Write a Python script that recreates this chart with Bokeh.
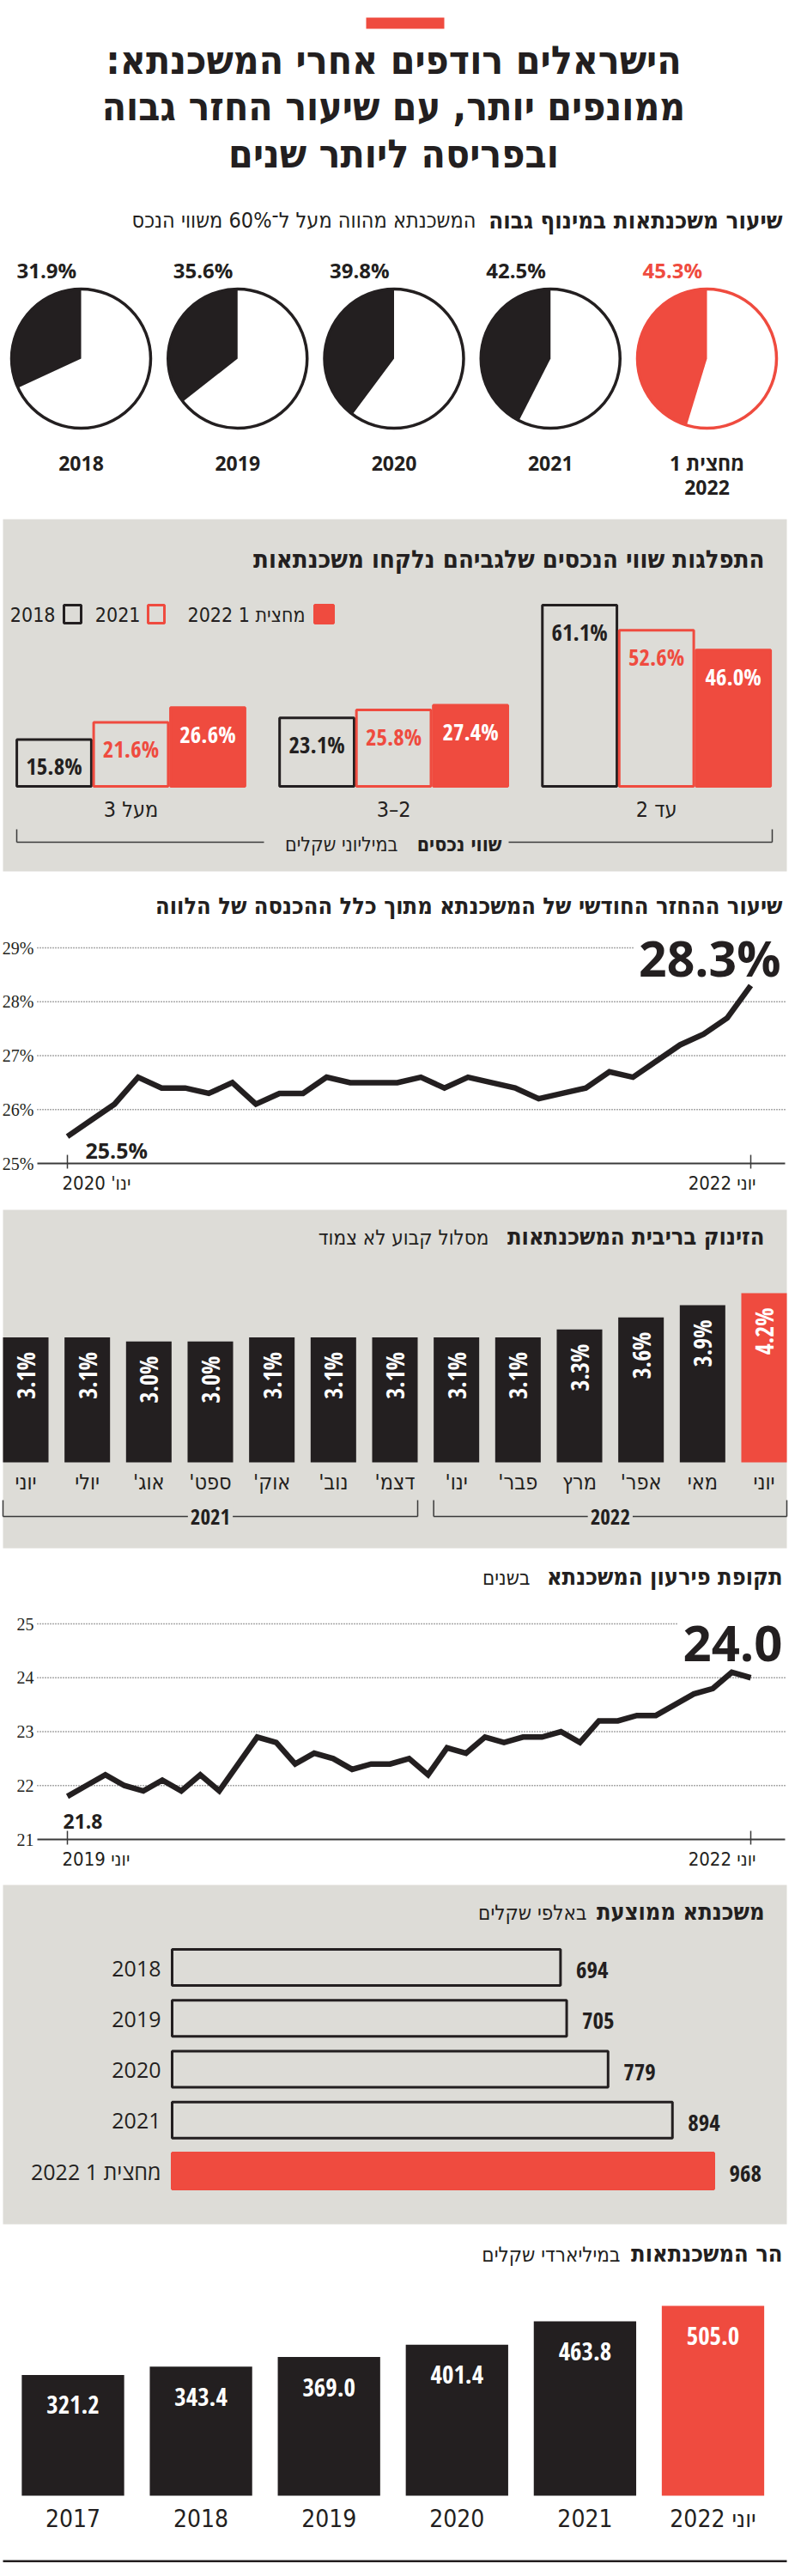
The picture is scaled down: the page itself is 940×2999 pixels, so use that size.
from math import pi
from bokeh.plotting import figure
from bokeh.models import Range1d, Label
from bokeh.core.properties import value
from bokeh.embed import file_html
from bokeh.resources import INLINE

# ---------------- data ----------------
title_lines = ["הישראלים רודפים אחרי המשכנתא:", "ממונפים יותר, עם שיעור החזר גבוה", "ובפריסה ליותר שנים"]

pie_title_bold = "שיעור משכנתאות במינוף גבוה"
pie_title_reg = "המשכנתא מהווה מעל ל־60% משווי הנכס"
pie_year_line1 = ["2018", "2019", "2020", "2021", "מחצית 1"]
pie_year_line2 = ["", "", "", "", "2022"]
pie_values = [31.9, 35.6, 39.8, 42.5, 45.3]

dist_title = "התפלגות שווי הנכסים שלגביהם נלקחו משכנתאות"
dist_groups = ["מעל 3", "2–3", "עד 2"]
dist_series = ["2018", "2021", "מחצית 1 2022"]
dist_2018 = [15.8, 23.1, 61.1]
dist_2021 = [21.6, 25.8, 52.6]
dist_2022h1 = [26.6, 27.4, 46.0]
dist_axis_bold = "שווי נכסים"
dist_axis_reg = "במיליוני שקלים"

pti_title = "שיעור ההחזר החודשי של המשכנתא מתוך כלל ההכנסה של הלווה"
pti_values = [25.5, 25.8, 26.1, 26.6, 26.4, 26.4, 26.3, 26.5, 26.1, 26.3,
              26.3, 26.6, 26.5, 26.5, 26.5, 26.6, 26.4, 26.6, 26.5, 26.4,
              26.2, 26.3, 26.4, 26.7, 26.6, 26.9, 27.2, 27.4, 27.7, 28.3]
pti_ticks = [25, 26, 27, 28, 29]
pti_tick_labels = ["25%", "26%", "27%", "28%", "29%"]
pti_end_labels = ["ינו' 2020", "יוני 2022"]

rate_title_bold = "הזינוק בריבית המשכנתאות"
rate_title_reg = "מסלול קבוע לא צמוד"
rate_months = ["יוני", "יולי", "אוג'", "ספט'", "אוק'", "נוב'", "דצמ'", "ינו'", "פבר'", "מרץ", "אפר'", "מאי", "יוני"]
rate_years = ["2021"] * 7 + ["2022"] * 6
rate_values = [3.1, 3.1, 3.0, 3.0, 3.1, 3.1, 3.1, 3.1, 3.1, 3.3, 3.6, 3.9, 4.2]

term_title_bold = "תקופת פירעון המשכנתא"
term_title_reg = "בשנים"
term_values = [21.8, 22.0, 22.2, 22.0, 21.9, 22.1, 21.9, 22.2, 21.9, 22.4,
               22.9, 22.8, 22.4, 22.6, 22.5, 22.3, 22.4, 22.4, 22.5, 22.2,
               22.7, 22.6, 22.9, 22.8, 22.9, 22.9, 23.0, 22.8, 23.2, 23.2,
               23.3, 23.3, 23.5, 23.7, 23.8, 24.1, 24.0]
term_ticks = [21, 22, 23, 24, 25]
term_tick_labels = ["21", "22", "23", "24", "25"]
term_end_labels = ["יוני 2019", "יוני 2022"]

avg_title_bold = "משכנתא ממוצעת"
avg_title_reg = "באלפי שקלים"
avg_labels = ["2018", "2019", "2020", "2021", "מחצית 1 2022"]
avg_values = [694, 705, 779, 894, 968]

debt_title_bold = "הר המשכנתאות"
debt_title_reg = "במיליארדי שקלים"
debt_labels = ["2017", "2018", "2019", "2020", "2021", "יוני 2022"]
debt_values = [321.2, 343.4, 369.0, 401.4, 463.8, 505.0]

# ---------------- style ----------------
RED = "#ef4b3f"
BLACK = "#231f20"
GRAY = "#dddcd7"
LINE = "#3a3a3a"
FT = "DejaVu Sans Condensed"
FB = "Open Sans Condensed, DejaVu Sans Condensed"
FO = "Open Sans"
FR = "Liberation Sans Narrow, DejaVu Sans Condensed"
FN = "Liberation Sans Narrow"


def rtl(s):
    return "\u202b" + s + "\u202c"


W, H = 924, 2983
X0, Y0 = 8, 8


def rng(v0, p0, v1, p1, lo, hi):
    s = (p1 - p0) / (v1 - v0)
    return Range1d(start=v0 + (lo - p0) / s, end=v0 + (hi - p0) / s)


def xr(v0, p0, v1, p1):
    return rng(v0, p0, v1, p1, X0, X0 + W)


def yr(v0, p0, v1, p1):
    return rng(v0, p0, v1, p1, Y0 + H, Y0)


p = figure(width=W, height=H, x_range=Range1d(X0, X0 + W), y_range=Range1d(Y0 + H, Y0),
           output_backend="svg", toolbar_location=None, min_border=0,
           x_axis_type=None, y_axis_type=None, outline_line_color=None,
           background_fill_color="white", border_fill_color="white")

n_pie = len(pie_values)
n_rate = len(rate_values)
n_pti = len(pti_values)
n_term = len(term_values)
n_avg = len(avg_values)
n_debt = len(debt_values)
GP = 3.42  # group pitch in bar units

p.extra_x_ranges = {
    "piex": xr(0, 102, n_pie - 1, 831),
    "dx": xr(0, 70.5, 1, 160),
    "l1x": xr(0, 86, n_pti - 1, 882),
    "rx": xr(0, 37.5, n_rate - 1, 897.5),
    "l2x": xr(0, 86, n_term - 1, 882),
    "hx": xr(0, 208, 968, 839),
    "bx": xr(0, 92.5, n_debt - 1, 838),
}
p.extra_y_ranges = {
    "piey": yr(0, 425, 1, 424),
    "dy": yr(0, 923, 61.1, 712),
    "l1y": yr(25, 1362, 29, 1111),
    "ry": yr(0, 1710, 4.2, 1513),
    "l2y": yr(21, 2149, 25, 1898),
    "hy": yr(0, 2298, n_avg - 1, 2535),
    "by": yr(0, 2913, 505, 2692),
}


def txt(x, y, s, size, font=FR, bold=False, color=BLACK, align="left", baseline="middle", **kw):
    if isinstance(s, str):
        x, y, s = [x], [y], [s]
    p.text(x=x, y=y, text=s, text_font=value(font), text_font_size=f"{size}px",
           text_font_style="bold" if bold else "normal", text_color=color,
           text_align=align, text_baseline=baseline, **kw)


# ---------------- headline ----------------
p.quad(left=[434], right=[525], top=[28], bottom=[41], fill_color=RED, line_color=None)
for i, line in enumerate(title_lines):
    txt(466, 77 + i * 54.5, rtl(line), 46, font=FT, bold=True, align="center")

# ---------------- pies ----------------
txt(919, 263, rtl(pie_title_bold), 27.5, font=FT, bold=True, align="right")
txt(562, 264, rtl(pie_title_reg), 25, font=FR, align="right")
pie_idx = list(range(n_pie))
pie_col = [BLACK] * (n_pie - 1) + [RED]
pie_end = [pi / 2 + 2 * pi * v / 100 for v in pie_values]
p.circle(x=pie_idx, y=0, radius=81, radius_units="screen", fill_color="white", line_color=None,
         x_range_name="piex", y_range_name="piey")
p.wedge(x=pie_idx, y=0, radius=81, radius_units="screen", start_angle=pi / 2, end_angle=pie_end,
        direction="anticlock", fill_color=pie_col, line_color=None, x_range_name="piex", y_range_name="piey")
p.circle(x=pie_idx, y=0, radius=81, radius_units="screen", fill_color=None, line_color=pie_col,
         line_width=3.5, x_range_name="piex", y_range_name="piey")
p.text(x=pie_idx, y=322, text=[f"{v:.1f}%" for v in pie_values], x_offset=-75,
       text_font=value(FO), text_font_style="bold", text_font_size="24px", text_color=pie_col,
       text_align="left", text_baseline="middle", x_range_name="piex")
p.text(x=pie_idx, y=546, text=[rtl(s) for s in pie_year_line1], text_font=value(FO), text_font_style="bold",
       text_font_size="23px", text_color=BLACK, text_align="center", text_baseline="middle",
       x_range_name="piex")
p.text(x=pie_idx, y=575, text=pie_year_line2, text_font=value(FO), text_font_style="bold",
       text_font_size="23px", text_color=BLACK, text_align="center", text_baseline="middle",
       x_range_name="piex")

# ---------------- distribution ----------------
p.quad(left=[11], right=[924], top=[612], bottom=[1022], fill_color=GRAY, line_color=None)
txt(898, 658, rtl(dist_title), 29, font=FT, bold=True, align="right")
leg_fill = [GRAY, GRAY, RED]
leg_line = [BLACK, RED, RED]
p.quad(left=[82, 180, 374], right=[102, 199, 396], top=712, bottom=733,
       fill_color=leg_fill, line_color=leg_line, line_width=3)
txt([72, 171, 363], 723, [rtl(s) for s in dist_series], 23, font=FR, align="right")

series = [dist_2018, dist_2021, dist_2022h1]
bx, bv, bfill, bline, btxt = [], [], [], [], []
lab_col = [BLACK, RED, "white"]
for s, vals in enumerate(series):
    for g, v in enumerate(vals):
        bx.append(g * GP + s)
        bv.append(v)
        bfill.append(leg_fill[s])
        bline.append(leg_line[s])
        btxt.append(lab_col[s])
p.vbar(x=bx, top=bv, bottom=0, width=0.97, fill_color=bfill, line_color=bline, line_width=3,
       x_range_name="dx", y_range_name="dy")
p.text(x=bx, y=bv, text=[f"{v:.1f}%" for v in bv], y_offset=31, text_font=value(FB),
       text_font_style="bold", text_font_size="27px", text_color=btxt, text_align="center",
       text_baseline="middle", x_range_name="dx", y_range_name="dy")
p.text(x=[g * GP + 1 for g in range(len(dist_groups))], y=950, text=[rtl(g) for g in dist_groups],
       text_font=value(FR), text_font_size="25px", text_color=BLACK, text_align="center",
       text_baseline="middle", x_range_name="dx")
p.segment(x0=[27, 600, 27, 907], x1=[315, 907, 27, 907], y0=[988, 988, 973, 973], y1=[988, 988, 988, 988],
          line_color=LINE, line_width=1.5)
txt(592, 990, rtl(dist_axis_bold), 23, font=FT, bold=True, align="right")
txt(471, 990, rtl(dist_axis_reg), 23, font=FR, align="right")


# ---------------- line charts ----------------
def line_chart(title_b, title_r, title_y, title_r_right, values, ticks, tick_labels, fmt,
               end_labels, xrn, yrn, base_y, top_grid_end, first_off, last_off, last_size, first_size):
    txt(919, title_y, rtl(title_b), 27, font=FT, bold=True, align="right")
    if title_r:
        txt(title_r_right, title_y + 1, rtl(title_r), 24, font=FR, align="right")
    n = len(values)
    p.segment(x0=51, x1=[922] * (len(ticks) - 2) + [top_grid_end], y0=ticks[1:], y1=ticks[1:],
              line_color="#555555", line_width=1.5, line_dash="1 2", y_range_name=yrn)
    p.segment(x0=51, x1=922, y0=ticks[0], y1=ticks[0], line_color=LINE, line_width=2, y_range_name=yrn)
    txt(47, ticks, tick_labels, 20, font=FN, align="right", y_range_name=yrn)
    p.segment(x0=[0, n - 1], x1=[0, n - 1], y0=base_y - 10, y1=base_y + 6, line_color=LINE, line_width=1.5,
              x_range_name=xrn)
    p.line(x=list(range(n)), y=values, line_width=6.5, line_color=BLACK, line_join="miter",
           x_range_name=xrn, y_range_name=yrn)
    txt(0, values[0], fmt.format(values[0]), first_size, font=FO, bold=True, baseline="alphabetic",
        x_offset=first_off[0], y_offset=first_off[1], x_range_name=xrn, y_range_name=yrn)
    txt(n - 1, values[-1], fmt.format(values[-1]), last_size, font=FO, bold=True, align="right",
        baseline="alphabetic", x_offset=last_off[0], y_offset=last_off[1], x_range_name=xrn, y_range_name=yrn)
    txt(0, base_y + 23, rtl(end_labels[0]), 22, font=FR, align="left", x_offset=-6, x_range_name=xrn)
    txt(n - 1, base_y + 23, rtl(end_labels[1]), 22, font=FR, align="right", x_offset=6, x_range_name=xrn)


line_chart(pti_title, None, 1062, 0, pti_values, pti_ticks, pti_tick_labels, "{:.1f}%", pti_end_labels,
           "l1x", "l1y", 1362, 745, (21, 16), (35, -32), 57, 25)

# ---------------- rate bars ----------------
p.quad(left=[11], right=[924], top=[1416], bottom=[1810], fill_color=GRAY, line_color=None)
txt(898, 1447, rtl(rate_title_bold), 27, font=FT, bold=True, align="right")
txt(577, 1448, rtl(rate_title_reg), 24, font=FR, align="right")
r_idx = list(range(n_rate))
r_col = [BLACK] * (n_rate - 1) + [RED]
p.vbar(x=r_idx, top=rate_values, bottom=0, width=0.74, fill_color=r_col, line_color=None,
       x_range_name="rx", y_range_name="ry")
p.text(x=r_idx, y=rate_values, text=[f"{v:.1f}%" for v in rate_values], angle=pi / 2, y_offset=17,
       text_font=value(FB), text_font_style="bold", text_font_size="28px", text_color="white",
       text_align="right", text_baseline="middle", x_range_name="rx", y_range_name="ry")
p.text(x=r_idx, y=1733, text=[rtl(m) for m in rate_months], text_font=value(FR), text_font_size="25px",
       text_color=BLACK, text_align="center", text_baseline="middle", x_range_name="rx")
for yv in sorted(set(rate_years)):
    ids = [i for i, y_ in enumerate(rate_years) if y_ == yv]
    a, b = ids[0] - 0.37, ids[-1] + 0.37
    p.segment(x0=[a, a, b], x1=[b, a, b], y0=[1773, 1754, 1754], y1=[1773, 1773, 1773],
              line_color=LINE, line_width=1.5, x_range_name="rx")
    p.add_layout(Label(x=(a + b) / 2, y=1773, text=yv, x_range_name="rx", text_align="center",
                       text_baseline="middle", text_font=FB, text_font_style="bold",
                       text_font_size="25px", text_color=BLACK, background_fill_color=GRAY, padding=3))

# ---------------- term line ----------------
line_chart(term_title_bold, term_title_reg, 1843, 625, term_values, term_ticks, term_tick_labels, "{:.1f}",
           term_end_labels, "l2x", "l2y", 2149, 798, (-5, 29), (37, -40), 58, 23)

# ---------------- average mortgage ----------------
p.quad(left=[11], right=[924], top=[2202], bottom=[2597], fill_color=GRAY, line_color=None)
txt(898, 2233, rtl(avg_title_bold), 27, font=FT, bold=True, align="right")
txt(691, 2234, rtl(avg_title_reg), 24, font=FR, align="right")
a_idx = list(range(n_avg))
a_fill = [GRAY] * (n_avg - 1) + [RED]
a_line = [BLACK] * (n_avg - 1) + [RED]
p.hbar(y=a_idx, left=0, right=avg_values, height=0.709, fill_color=a_fill, line_color=a_line,
       line_width=3, x_range_name="hx", y_range_name="hy")
p.text(x=avg_values, y=a_idx, text=[str(v) for v in avg_values], x_offset=18, y_offset=3,
       text_font=value(FB), text_font_style="bold", text_font_size="27px", text_color=BLACK,
       text_align="left", text_baseline="middle", x_range_name="hx", y_range_name="hy")
p.text(x=195, y=a_idx, text=[rtl(s) for s in avg_labels], text_font=value(FO), text_font_size="25px",
       text_color=BLACK, text_align="right", text_baseline="middle", y_range_name="hy")

# ---------------- mortgage debt ----------------
txt(919, 2631, rtl(debt_title_bold), 27, font=FT, bold=True, align="right")
txt(730, 2632, rtl(debt_title_reg), 24, font=FR, align="right")
d_idx = list(range(n_debt))
d_col = [BLACK] * (n_debt - 1) + [RED]
p.vbar(x=d_idx, top=debt_values, bottom=0, width=0.8, fill_color=d_col, line_color=None,
       x_range_name="bx", y_range_name="by")
p.text(x=d_idx, y=debt_values, text=[f"{v:.1f}" for v in debt_values], y_offset=35,
       text_font=value(FB), text_font_style="bold", text_font_size="29px", text_color="white",
       text_align="center", text_baseline="middle", x_range_name="bx", y_range_name="by")
p.text(x=d_idx, y=2940, text=[rtl(s) for s in debt_labels], text_font=value(FR), text_font_size="28px",
       text_color=BLACK, text_align="center", text_baseline="middle", x_range_name="bx")
p.quad(left=[11], right=[924], top=[2988], bottom=[2991], fill_color=BLACK, line_color=None)

open("out.html", "w").write(file_html(p, INLINE))
